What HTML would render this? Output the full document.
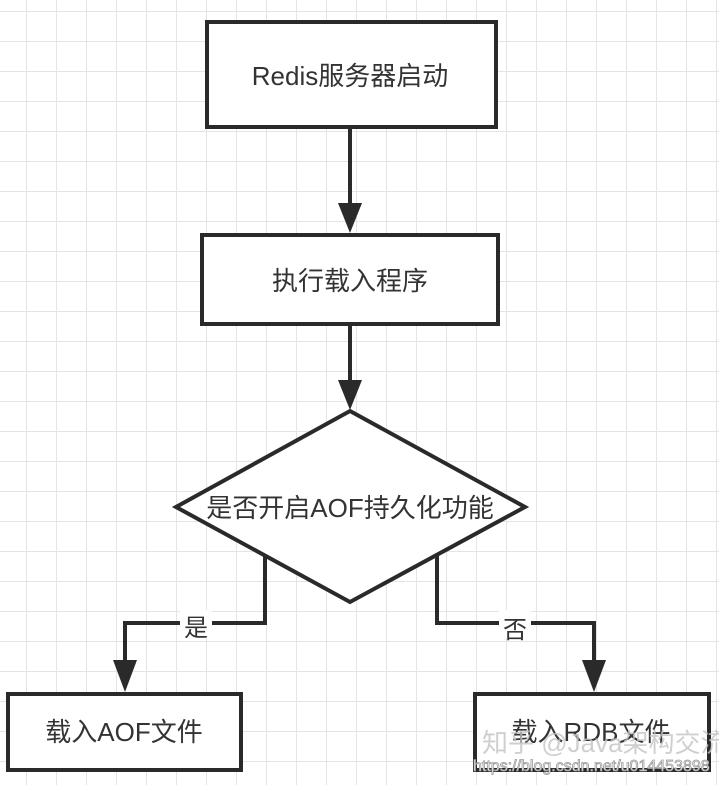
<!DOCTYPE html>
<html><head><meta charset="utf-8"><style>
html,body{margin:0;padding:0;background:#fff;}
body{width:719px;height:785px;overflow:hidden;position:relative;
background-image:linear-gradient(to right,#e4e4e4 1px,transparent 1px),linear-gradient(to bottom,#e4e4e4 1px,transparent 1px);
background-size:30px 30px;background-position:26px 11px;}
svg{position:absolute;left:0;top:0;}
text{font-family:"Liberation Sans","Noto Sans CJK SC",sans-serif;fill:#333;}
</style></head><body>
<svg width="719" height="785" viewBox="0 0 719 785">
<g fill="#fff" stroke="#2a2a2a" stroke-width="4">
<rect x="207" y="22" width="289" height="105"/>
<rect x="202" y="235" width="296" height="89"/>
<polygon points="350,411 525,507 350,602 176,507"/>
<rect x="8" y="694" width="233" height="76"/>
<rect x="475" y="694" width="234" height="76"/>
</g>
<g fill="none" stroke="#2a2a2a" stroke-width="4">
<line x1="350" y1="127" x2="350" y2="205"/>
<line x1="350" y1="324" x2="350" y2="382"/>
<polyline points="265,556 265,623 125,623 125,665"/>
<polyline points="437,556 437,623 594,623 594,665"/>
</g>
<g fill="#2a2a2a">
<polygon points="338,203 362,203 350,233"/>
<polygon points="338,380 362,380 350,410"/>
<polygon points="113,660 137,660 125,692"/>
<polygon points="582,660 606,660 594,692"/>
</g>
<rect x="180" y="610" width="32" height="28" fill="#fff"/>
<rect x="499" y="610" width="32" height="28" fill="#fff"/>
<g font-size="26" text-anchor="middle">
<text x="350" y="85">Redis服务器启动</text>
<text x="350" y="290">执行载入程序</text>
<text x="350" y="517">是否开启AOF持久化功能</text>
<text x="196" y="636" font-size="24">是</text>
<text x="515" y="638" font-size="24">否</text>
<text x="124" y="741">载入AOF文件</text>
<text x="591" y="741">载入RDB文件</text>
</g>
<text x="482" y="752" font-size="26" style="fill:#c4c4c4;opacity:.8">知乎 @Java架构交流</text>
<text x="473" y="771" font-size="16" style="fill:#fff;stroke:#999;stroke-width:.8">https://blog.csdn.net/u014453898</text>
</svg>
</body></html>
